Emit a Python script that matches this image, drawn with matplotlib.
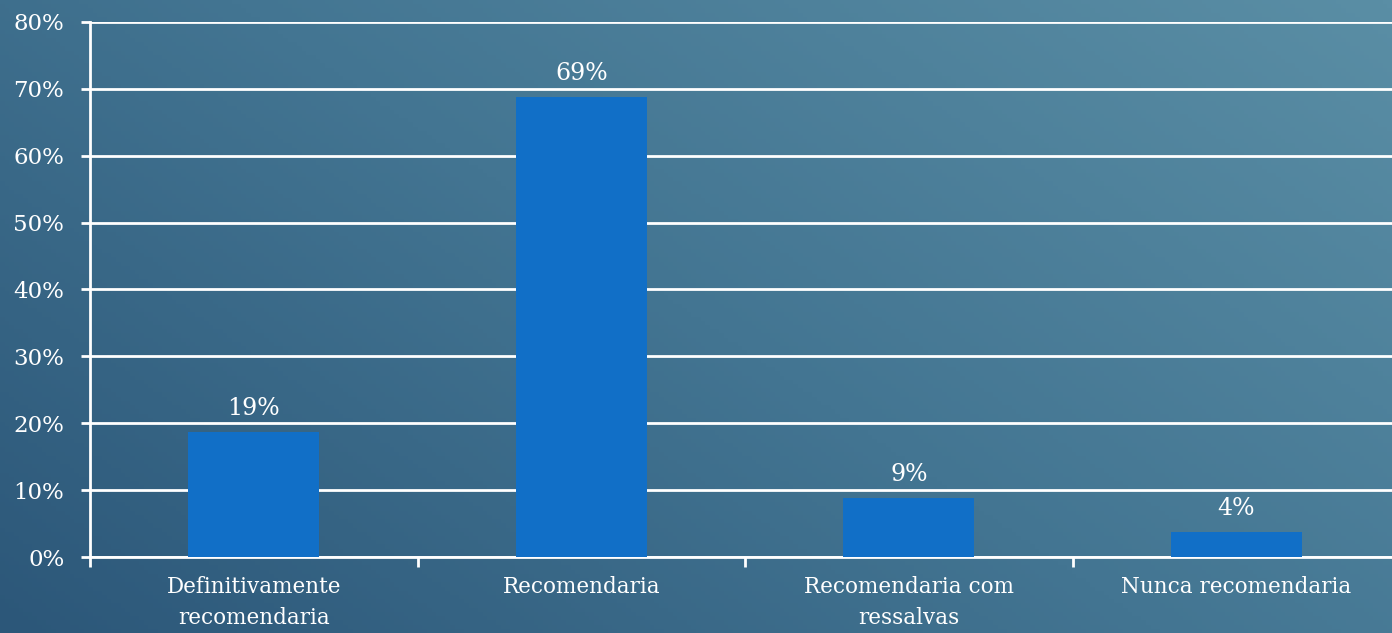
import matplotlib.pyplot as plt
import numpy as np
from matplotlib.colors import LinearSegmentedColormap

categories = ["Definitivamente\nrecomendaria", "Recomendaria",
              "Recomendaria com\nressalvas", "Nunca recomendaria"]
shares = [18.75, 68.75, 8.75, 3.75]
yticks = [0, 10, 20, 30, 40, 50, 60, 70, 80]

W, H = 1392, 633
fig = plt.figure(figsize=(W / 100, H / 100), dpi=100)

# diagonal background gradient, darker bottom-left to lighter top-right
bg = fig.add_axes([0, 0, 1, 1])
bg.axis("off")
gx, gy = np.meshgrid(np.linspace(0, 1, 300), np.linspace(0, 1, 150))
grad = (gx * 0.6 + gy * 0.4)
cmap = LinearSegmentedColormap.from_list("bg", ["#2c5779", "#437592", "#5a8ea5"])
bg.imshow(grad, cmap=cmap, origin="lower", aspect="auto", extent=[0, 1, 0, 1])
bg.set_xlim(0, 1)
bg.set_ylim(0, 1)

left, right = 90 / W, 1400 / W
bottom, top = (H - 557) / H, (H - 22) / H
ax = fig.add_axes([left, bottom, right - left, top - bottom])
ax.patch.set_alpha(0)

font = "DejaVu Serif"
x = np.arange(len(categories))
ax.set_axisbelow(True)
ax.yaxis.grid(True, color="white", linewidth=2)
bars = ax.bar(x, shares, width=0.4, color="#116fc7", zorder=3)
for xi, v in zip(x, shares):
    ax.text(xi, v + 1.8, f"{round(v):d}%", ha="center", va="bottom",
            color="white", fontsize=17, family=font)

ax.set_xlim(-0.5, len(categories) - 0.5)
ax.set_ylim(0, 80)
ax.set_yticks(yticks)
ax.set_yticklabels([f"{t}%" for t in yticks], family=font, fontsize=16.5, color="white")
ax.set_xticks(x)
ax.set_xticklabels(categories, family=font, fontsize=15.5, color="white", linespacing=1.5)
ax.tick_params(axis="x", length=0, pad=14)
ax.set_xticks(np.arange(len(categories) + 1) - 0.5, minor=True)
ax.tick_params(axis="x", which="minor", length=7, width=2, color="white")
ax.tick_params(axis="y", length=6.5, width=2, color="white", pad=12)
for s in ["top", "right"]:
    ax.spines[s].set_visible(False)
for s in ["left", "bottom"]:
    ax.spines[s].set_color("white")
    ax.spines[s].set_linewidth(2)

fig.savefig("out.png", dpi=100)
